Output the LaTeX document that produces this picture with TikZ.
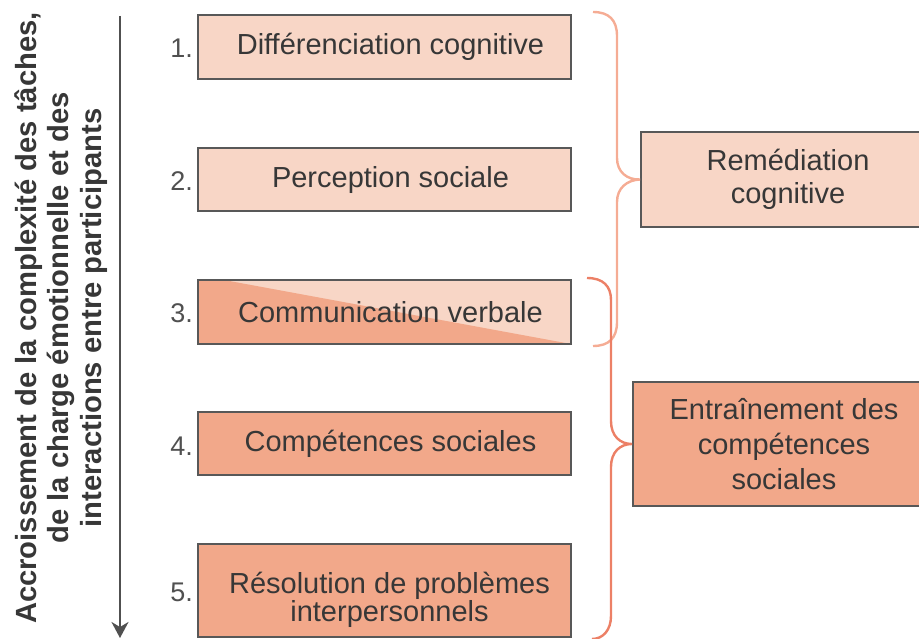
\documentclass[tikz,border=0pt]{standalone}
\usepackage{fontspec}
\setmainfont{Liberation Sans}
\usetikzlibrary{arrows.meta}
\definecolor{lightfill}{RGB}{248,214,198}
\definecolor{darkfill}{RGB}{242,168,138}
\definecolor{boxline}{RGB}{88,88,88}
\definecolor{txt}{RGB}{55,55,55}
\definecolor{numcol}{RGB}{80,80,80}
\definecolor{braceA}{RGB}{245,172,148}
\definecolor{braceB}{RGB}{236,128,102}
\begin{document}
\begin{tikzpicture}[x=1pt,y=-1pt,
  stepbox/.style={draw=boxline,line width=2pt,inner sep=0pt,minimum width=373pt,
    text=txt,font=\fontsize{29}{29}\selectfont,align=center,
    execute at begin node=\hspace*{12pt}},
  lightbox/.style={stepbox,fill=lightfill},
  darkbox/.style={stepbox,fill=darkfill},
  num/.style={anchor=east,text=numcol,font=\fontsize{27}{27}\selectfont,inner sep=0pt},
  groupbox/.style={draw=boxline,line width=2pt,inner sep=0pt,minimum width=294pt,
    text=txt,align=center},
  bracea/.style={draw=braceA,line width=2.4pt},
  braceb/.style={draw=braceB,line width=2.4pt},
  axis/.style={draw=numcol,line width=2pt,-{Stealth[length=16pt,width=17pt,inset=5pt]}}
]
\useasboundingbox (0,0) rectangle (919,639);
\clip (0,0) rectangle (919,639);

% left axis
\coordinate (atop) at (120,16);
\coordinate (abot) at (120,638);
\draw[axis] (atop) -- (abot);
\node[rotate=90,align=center,text=txt,inner sep=0pt,
  font=\bfseries\fontsize{29.2}{32.5}\selectfont] (axlabel) at (61,318)
  {Accroissement de la complexité des tâches,\\
   de la charge émotionnelle et des\\
   interactions entre participants};

% step boxes
\node[lightbox,minimum height=64pt] (b1) at (384.5,47) {Différenciation cognitive};
\node[lightbox,minimum height=63pt] (b2) at (384.5,180) {Perception sociale};
\node[stepbox,minimum height=64pt,fill=lightfill,
  path picture={\fill[darkfill] ([xshift=26pt]path picture bounding box.north west)
     -- (path picture bounding box.south east)
     -- (path picture bounding box.south west)
     -- (path picture bounding box.north west) -- cycle;}]
  (b3) at (384.5,312) {Communication verbale};
\node[darkbox,minimum height=63pt] (b4) at (384.5,443.5) {Compétences sociales};
\node[draw=boxline,line width=2pt,fill=darkfill,inner sep=0pt,minimum width=373pt,
  minimum height=93pt,
  label={[text=txt,font=\fontsize{29}{28}\selectfont,align=center,inner sep=0pt,
    yshift=-9pt,xshift=5pt]center:{Résolution de problèmes\\interpersonnels}}]
  (b5) at (384.5,590.5) {};

% numbers
\node[num] (n1) at (193,48) {1.};
\node[num] (n2) at (193,181) {2.};
\node[num] (n3) at (193,313) {3.};
\node[num] (n4) at (193,446) {4.};
\node[num] (n5) at (193,592) {5.};

% group boxes
\node[groupbox,fill=lightfill,minimum height=95pt,
  font=\fontsize{29}{33}\selectfont] (g1) at (788,179.5) {Remédiation\\cognitive};
\node[groupbox,fill=darkfill,minimum width=302pt,minimum height=124pt,
  font=\fontsize{29}{35}\selectfont] (g2) at (784,444) {Entraînement des\\compétences\\sociales};

% braces
\coordinate (t1a) at (593,12);
\coordinate (t1b) at (593,346);
\coordinate (t2a) at (587,278);
\coordinate (t2b) at (592,639);
\draw[bracea] (t1a) .. controls (609,12) and (617,20) .. (617,36)
  -- (617,158) .. controls (617,172) and (627,180) .. (g1.west)
  .. controls (627,180) and (617,188) .. (617,202)
  -- (617,322) .. controls (617,338) and (609,346) .. (t1b);
\draw[braceb] (t2a) .. controls (603,278) and (611,286) .. (611,300)
  -- (611,421) .. controls (611,436) and (620,444) .. (g2.west)
  .. controls (620,444) and (611,452) .. (611,467)
  -- (611,616) .. controls (611,630) and (603,639) .. (t2b);
\end{tikzpicture}
\end{document}
